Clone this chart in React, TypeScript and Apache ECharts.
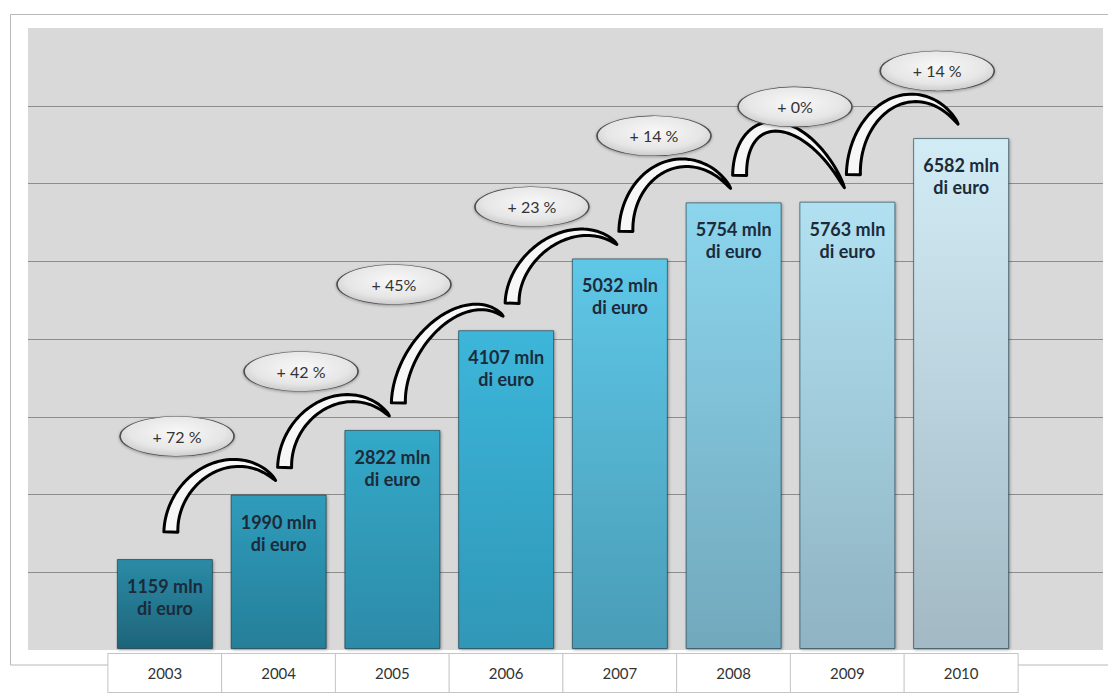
import React, { useEffect, useRef } from "react";
import * as echarts from "echarts";

// ---- data ----
const YEARS = ["2003", "2004", "2005", "2006", "2007", "2008", "2009", "2010"];
const VALUES = [1159, 1990, 2822, 4107, 5032, 5754, 5763, 6582];
const PCT_LABELS = ["+ 72 %", "+ 42 %", "+ 45%", "+ 23 %", "+ 14 %", "+ 0%", "+ 14 %"];
// annotation anchors (x in category index units, y in axis units)
const PCT_X = [0.107, 1.197, 2.014, 3.227, 4.3, 5.54, 6.79];
const PCT_Y = [2740, 3575, 4695, 5698, 6611, 6984, 7447];
const Y_MAX = 8000;
const Y_STEP = 1000;

// ---- styles ----
const BAR_TOP = ["#2b8ba7", "#2f9cbb", "#34a8c8", "#3cb6da", "#5ec7e7", "#8bd5ed", "#b1e1f1", "#d2ecf6"];
const BAR_BOTTOM = ["#1e6479", "#267f99", "#2c8ba8", "#3097b7", "#4a9cb6", "#72a8bc", "#8fb3c2", "#a2b9c4"];

function arrowPolygon(S: number[], E: number[], Yp: number): number[][] {
  const a1 = (40 * Math.PI) / 180;
  const c1 = Math.cos(a1);
  const s1 = Math.sin(a1);
  const dx = E[0] - S[0];
  const rx = dx / (1 + c1);
  const cx = S[0] + rx;
  const f = rx / dx;
  const ry = Math.max(20, (S[1] * (1 - f) + f * E[1] - Yp) / (1 - f * s1));
  const bEnd = E[1] + ry * s1;
  const N = 48;
  const pts: number[][] = [];
  for (let k = 0; k <= N; k++) {
    const th = Math.PI - ((Math.PI - a1) * k) / N;
    const x = cx + rx * Math.cos(th);
    const base = S[1] + ((bEnd - S[1]) * (x - S[0])) / dx;
    pts.push([x, base - ry * Math.sin(th)]);
  }
  const outer: number[][] = [];
  const inner: number[][] = [];
  const W0 = 14;
  for (let k = 0; k <= N; k++) {
    const p0 = pts[Math.max(0, k - 1)];
    const p1 = pts[Math.min(N, k + 1)];
    let tx = p1[0] - p0[0];
    let ty = p1[1] - p0[1];
    const len = Math.hypot(tx, ty) || 1;
    tx /= len;
    ty /= len;
    const nx = -ty;
    const ny = tx;
    const t = k / N;
    const w = (W0 * Math.pow(1 - t, 0.6)) / 2;
    outer.push([pts[k][0] + nx * w, pts[k][1] + ny * w]);
    inner.push([pts[k][0] - nx * w, pts[k][1] - ny * w]);
  }
  return outer.concat(inner.reverse());
}

export default function App() {
  const ref = useRef<HTMLDivElement>(null);
  useEffect(() => {
    document.body.style.margin = "0";
    const chart = echarts.init(ref.current!, null, { renderer: "svg" });
    const top = 28;
    const bottom = 693 - 650;

    const barData = VALUES.map((v, i) => ({
      value: v,
      itemStyle: {
        color: new echarts.graphic.LinearGradient(0, 0, 0, 1, [
          { offset: 0, color: BAR_TOP[i] },
          { offset: 1, color: BAR_BOTTOM[i] },
        ]),
      },
    }));

    const arrowData = VALUES.slice(0, -1).map((_, i) => [i, VALUES[i]]);
    const pctData = PCT_LABELS.map((l, i) => [PCT_X[i], PCT_Y[i], l]);

    chart.setOption({
      animation: false,
      backgroundColor: "#ffffff",
      graphic: [
        {
          type: "rect",
          z: -10,
          shape: { x: 10.5, y: 14.5, width: 1120, height: 650.5 },
          style: { fill: "#ffffff", stroke: "#b8b8b8", lineWidth: 1 },
        },
      ],
      grid: [
        { left: 28, right: 5, top, bottom, show: true, backgroundColor: "#d9d9d9", borderWidth: 0 },
        { left: 108, right: 90, top, bottom },
      ],
      xAxis: [
        { type: "value", gridIndex: 0, min: 0, max: 1, show: false },
        {
          type: "category",
          gridIndex: 1,
          data: YEARS,
          axisLine: { show: false },
          axisTick: { show: false },
          axisLabel: {
            interval: 0,
            margin: 5,
            color: "#333333",
            fontSize: 15,
            fontFamily: "Lato",
            width: 113,
            lineHeight: 38,
            align: "center",
            backgroundColor: "#ffffff",
            borderColor: "#c4c4c4",
            borderWidth: 1,
          },
        },
        { type: "value", gridIndex: 1, min: -0.5, max: 7.5, show: false },
      ],
      yAxis: [
        {
          type: "value",
          gridIndex: 0,
          min: 0,
          max: Y_MAX,
          interval: Y_STEP,
          axisLabel: { show: false },
          axisLine: { show: false },
          axisTick: { show: false },
          splitLine: {
            show: true,
            showMinLine: false,
            showMaxLine: false,
            lineStyle: { color: "#8d8d8d", width: 1 },
          },
        },
        { type: "value", gridIndex: 1, min: 0, max: Y_MAX, interval: Y_STEP, show: false, splitLine: { show: false } },
      ],
      series: [
        {
          type: "bar",
          xAxisIndex: 1,
          yAxisIndex: 1,
          data: barData,
          barWidth: 96,
          itemStyle: {
            borderColor: "rgba(10,40,55,0.55)",
            borderWidth: 1,
            shadowBlur: 3,
            shadowColor: "rgba(0,0,0,0.35)",
            shadowOffsetX: 1,
            shadowOffsetY: 1,
          },
          label: {
            show: true,
            position: "insideTop",
            distance: 16,
            formatter: (p: any) => `${p.value} mln\ndi euro`,
            color: "#1c2a3a",
            fontFamily: "Lato",
            fontWeight: "bold",
            fontSize: 18,
            lineHeight: 22,
            align: "center",
          },
          z: 2,
        },
        {
          type: "custom",
          xAxisIndex: 2,
          yAxisIndex: 1,
          data: arrowData,
          z: 3,
          renderItem: (params: any, api: any) => {
            const i = api.value(0);
            const a = api.coord([i, VALUES[i]]);
            const b = api.coord([i + 1, VALUES[i + 1]]);
            const p = api.coord([PCT_X[i], PCT_Y[i]]);
            const S = [a[0] + 6, a[1] - 27];
            const E = [b[0] - 3, b[1] - 14];
            const Yp = p[1] + 27;
            return {
              type: "polygon",
              shape: { points: arrowPolygon(S, E, Yp) },
              style: { fill: "#f7f7f7", stroke: "#000000", lineWidth: 3, lineJoin: "round" },
            };
          },
        },
        {
          type: "scatter",
          xAxisIndex: 2,
          yAxisIndex: 1,
          data: pctData,
          symbol: "circle",
          symbolSize: [114, 40],
          z: 4,
          itemStyle: {
            color: new echarts.graphic.RadialGradient(0.5, 0.4, 0.7, [
              { offset: 0, color: "#f8f8f8" },
              { offset: 0.6, color: "#e6e6e6" },
              { offset: 1, color: "#bdbdbd" },
            ]),
            borderColor: "#4d4d4d",
            borderWidth: 1,
            shadowBlur: 3,
            shadowColor: "rgba(0,0,0,0.3)",
            shadowOffsetY: 1,
            opacity: 1,
          },
          label: {
            show: true,
            position: "inside",
            formatter: (p: any) => p.value[2],
            color: "#333333",
            fontFamily: "Lato",
            fontSize: 16,
          },
          emphasis: { disabled: true },
        },
      ],
    });
    return () => chart.dispose();
  }, []);
  return <div ref={ref} style={{ position: "fixed", left: 0, top: 0, width: 1108, height: 693 }} />;
}
